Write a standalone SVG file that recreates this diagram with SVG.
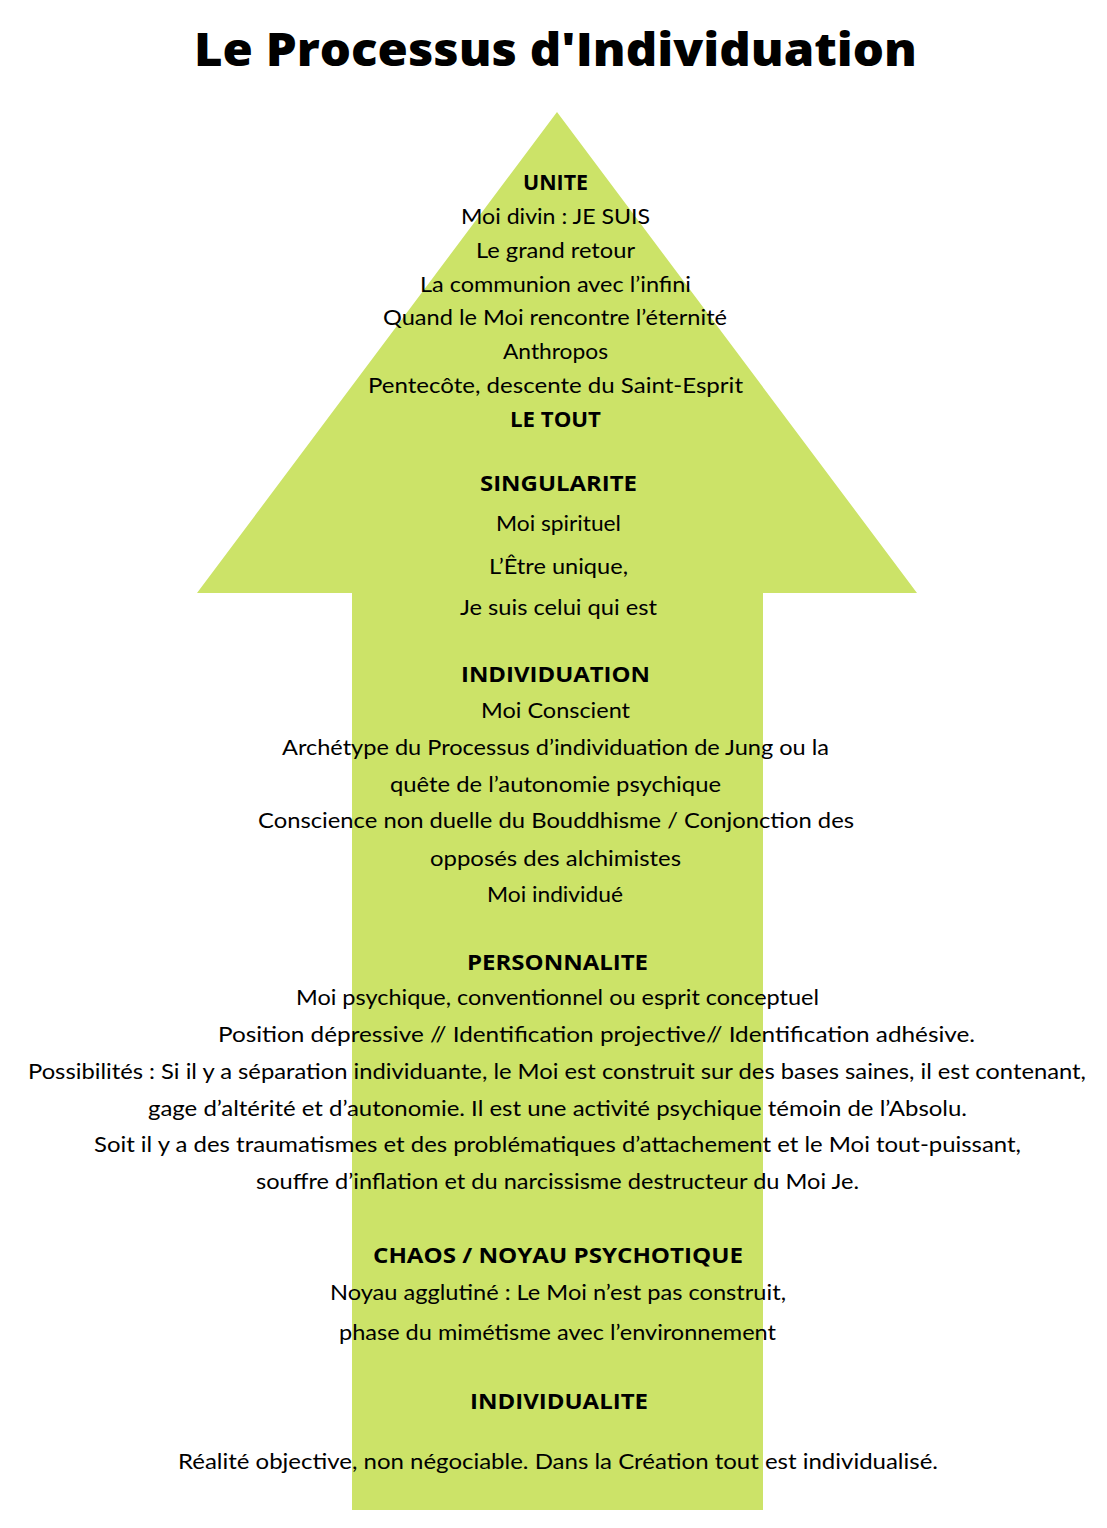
<svg xmlns="http://www.w3.org/2000/svg" width="1107" height="1528" viewBox="0 0 1107 1528">
<style>
.t{font-family:"Open Sans","Noto Sans","DejaVu Sans",sans-serif;font-weight:800;font-size:46px;fill:#000;text-anchor:middle}
.h{font-family:"Open Sans","Noto Sans","DejaVu Sans",sans-serif;font-weight:700;font-size:21px;fill:#000;text-anchor:middle}
.b{font-family:Lato,"Liberation Sans",sans-serif;font-weight:400;font-size:21px;fill:#000;text-anchor:middle}
</style>
<rect width="1107" height="1528" fill="#ffffff"/>
<path id="arrow" d="M557,112 L917,593 L763,593 L763,1510 L352,1510 L352,593 L197,593 Z" fill="#cce368"/>
<text class="t" x="555.5" y="66" textLength="723" lengthAdjust="spacingAndGlyphs">Le Processus d'Individuation</text>
<g id="unite" transform="translate(0,1)">
<text class="h" x="555.5" y="189" textLength="65" lengthAdjust="spacingAndGlyphs">UNITE</text>
<text class="b" x="555.5" y="223" textLength="189" lengthAdjust="spacingAndGlyphs">Moi divin : JE SUIS</text>
<text class="b" x="555.5" y="257" textLength="159" lengthAdjust="spacingAndGlyphs">Le grand retour</text>
<text class="b" x="555.5" y="291" textLength="271" lengthAdjust="spacingAndGlyphs">La communion avec l’infini</text>
<text class="b" x="555" y="324" textLength="344" lengthAdjust="spacingAndGlyphs">Quand le Moi rencontre l’éternité</text>
<text class="b" x="555.5" y="358" textLength="105" lengthAdjust="spacingAndGlyphs">Anthropos</text>
<text class="b" x="555.5" y="392" textLength="375" lengthAdjust="spacingAndGlyphs">Pentecôte, descente du Saint-Esprit</text>
<text class="h" x="555.5" y="426" textLength="91" lengthAdjust="spacingAndGlyphs">LE TOUT</text>
</g>
<g id="singularite" transform="translate(0,1)">
<text class="h" x="558.5" y="490" textLength="157" lengthAdjust="spacingAndGlyphs">SINGULARITE</text>
<text class="b" x="558.5" y="530" textLength="125" lengthAdjust="spacingAndGlyphs">Moi spirituel</text>
<text class="b" x="558.5" y="573" textLength="139" lengthAdjust="spacingAndGlyphs">L’Être unique,</text>
<text class="b" x="558.5" y="614" textLength="197" lengthAdjust="spacingAndGlyphs">Je suis celui qui est</text>
</g>
<g id="individuation" transform="translate(0,1)">
<text class="h" x="555.5" y="681" textLength="189" lengthAdjust="spacingAndGlyphs">INDIVIDUATION</text>
<text class="b" x="555.5" y="717" textLength="149" lengthAdjust="spacingAndGlyphs">Moi Conscient</text>
<text class="b" x="555.5" y="754" textLength="547" lengthAdjust="spacingAndGlyphs">Archétype du Processus d’individuation de Jung ou la</text>
<text class="b" x="555.5" y="791" textLength="331" lengthAdjust="spacingAndGlyphs">quête de l’autonomie psychique</text>
<text class="b" x="556" y="827" textLength="596" lengthAdjust="spacingAndGlyphs">Conscience non duelle du Bouddhisme / Conjonction des</text>
<text class="b" x="555.5" y="865" textLength="251" lengthAdjust="spacingAndGlyphs">opposés des alchimistes</text>
<text class="b" x="555" y="901" textLength="136" lengthAdjust="spacingAndGlyphs">Moi individué</text>
</g>
<g id="personnalite" transform="translate(0,1)">
<text class="h" x="557.5" y="969" textLength="181" lengthAdjust="spacingAndGlyphs">PERSONNALITE</text>
<text class="b" x="557.5" y="1004" textLength="523" lengthAdjust="spacingAndGlyphs">Moi psychique, conventionnel ou esprit conceptuel</text>
<text class="b" x="596.5" y="1041" textLength="757" lengthAdjust="spacingAndGlyphs">Position dépressive // Identification projective// Identification adhésive.</text>
<text class="b" x="557" y="1078" textLength="1058" lengthAdjust="spacingAndGlyphs">Possibilités : Si il y a séparation individuante, le Moi est construit sur des bases saines, il est contenant,</text>
<text class="b" x="557.5" y="1115" textLength="819" lengthAdjust="spacingAndGlyphs">gage d’altérité et d’autonomie. Il est une activité psychique témoin de l’Absolu.</text>
<text class="b" x="557.5" y="1151" textLength="927" lengthAdjust="spacingAndGlyphs">Soit il y a des traumatismes et des problématiques d’attachement et le Moi tout-puissant,</text>
<text class="b" x="557.5" y="1188" textLength="603" lengthAdjust="spacingAndGlyphs">souffre d’inflation et du narcissisme destructeur du Moi Je.</text>
</g>
<g id="chaos" transform="translate(0,1)">
<text class="h" x="558" y="1262" textLength="370" lengthAdjust="spacingAndGlyphs">CHAOS / NOYAU PSYCHOTIQUE</text>
<text class="b" x="558" y="1299" textLength="456" lengthAdjust="spacingAndGlyphs">Noyau agglutiné : Le Moi n’est pas construit,</text>
<text class="b" x="557.5" y="1339" textLength="437" lengthAdjust="spacingAndGlyphs">phase du mimétisme avec l’environnement</text>
</g>
<g id="individualite" transform="translate(0,1)">
<text class="h" x="559" y="1408" textLength="178" lengthAdjust="spacingAndGlyphs">INDIVIDUALITE</text>
<text class="b" x="558" y="1468" textLength="760" lengthAdjust="spacingAndGlyphs">Réalité objective, non négociable. Dans la Création tout est individualisé.</text>
</g>
</svg>
